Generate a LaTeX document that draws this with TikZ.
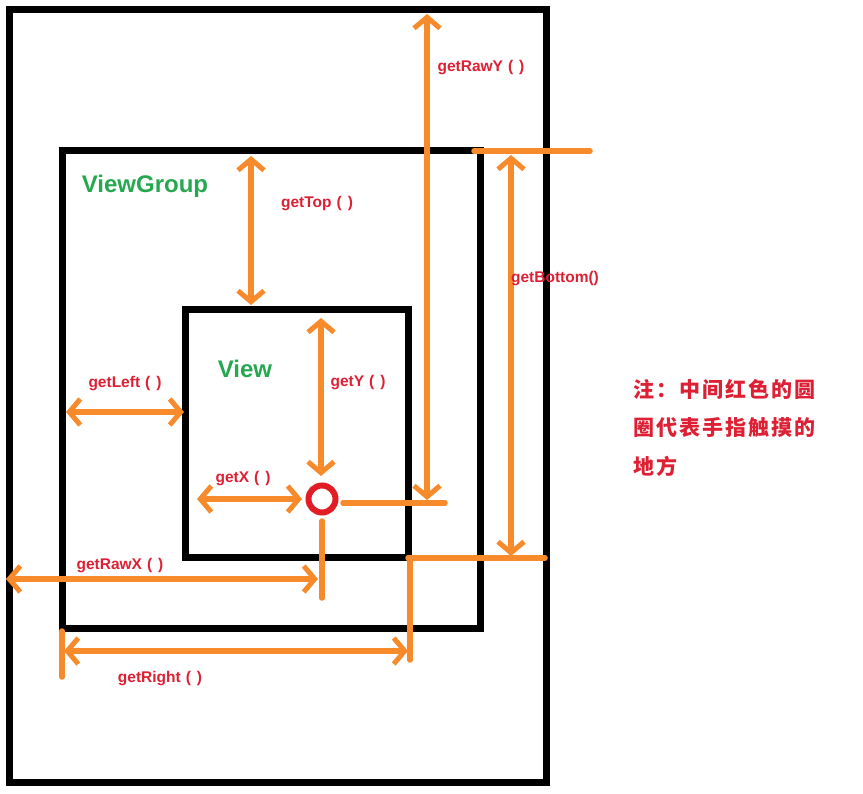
\documentclass[tikz,border=0pt]{standalone}
\usepackage{fontspec}
\setmainfont{Liberation Sans}
\newfontfamily\cjk[LetterSpace=10]{Noto Sans CJK SC}
\usetikzlibrary{arrows.meta}
\definecolor{org}{RGB}{247,138,42}
\definecolor{lblred}{RGB}{222,32,52}
\definecolor{grn}{RGB}{38,168,80}
\definecolor{ring}{RGB}{226,28,36}
\newcommand{\pp}{\hspace{5pt}(\hspace{6pt})}
\begin{document}
\begin{tikzpicture}[x=1pt,y=-1pt,
  box/.style={draw=black,line width=7pt},
  dim/.style={draw=org,line width=5.5pt,line cap=round},
  barb/.tip={Straight Barb[length=11pt,width=26pt,line width=5pt]},
  both/.style={dim,barb-barb},
  lbl/.style={text=lblred,font=\bfseries\fontsize{15.5}{18}\selectfont,inner sep=0pt},
  ttl/.style={text=grn,font=\bfseries\fontsize{24}{28}\selectfont,inner sep=0pt}]
\useasboundingbox (0,0) rectangle (863,794);
\fill[white] (0,0) rectangle (863,794);
% boxes
\draw[box] (9,10) rectangle (546,782);
\draw[box] (62,151) rectangle (480,628);
\draw[box] (185,310) rectangle (408,557);
% coordinates
\coordinate (rawYtop) at (427,14);
\coordinate (rawYbot) at (427,500);
\coordinate (tR) at (343,503);
\coordinate (tRend) at (445,503);
\coordinate (botTopA) at (474,151);
\coordinate (botTopB) at (590,151);
\coordinate (botBotA) at (408,558);
\coordinate (botBotB) at (545,558);
\coordinate (bTop) at (511,155);
\coordinate (bBot) at (511,556);
\coordinate (topA) at (251,156);
\coordinate (topB) at (251,305);
\coordinate (yA) at (321,318);
\coordinate (yB) at (321,476);
\coordinate (lA) at (66,412);
\coordinate (lB) at (184,412);
\coordinate (xA) at (197,499);
\coordinate (xB) at (302,499);
\coordinate (rxA) at (6,579);
\coordinate (rxB) at (318,579);
\coordinate (tD) at (322,521);
\coordinate (tDend) at (322,598);
\coordinate (rA) at (64,651);
\coordinate (rB) at (408,651);
\coordinate (tickA) at (62,631);
\coordinate (tickB) at (62,677);
\coordinate (rvA) at (410,558);
\coordinate (rvB) at (410,660);
% touch point
\node[circle,draw=ring,line width=6pt,minimum size=27pt,inner sep=0pt] (touch) at (322,499) {};
% orange guides
\draw[dim] (tR) -- (tRend);
\draw[dim] (tD) -- (tDend);
\draw[dim] (botTopA) -- (botTopB);
\draw[dim] (botBotA) -- (botBotB);
\draw[dim] (tickA) -- (tickB);
\draw[dim] (rvA) -- (rvB);
% dimension arrows
\draw[both] (rawYbot) -- (rawYtop);
\draw[both] (bBot) -- (bTop);
\draw[both] (topA) -- (topB);
\draw[both] (yA) -- (yB);
\draw[both] (lA) -- (lB);
\draw[both] (xA) -- (xB);
\draw[both] (rxA) -- (rxB);
\draw[both] (rA) -- (rB);
% labels
\node[ttl] (vg) at (145,186) {ViewGroup};
\node[ttl] (v) at (245,369) {View};
\node[lbl] (lrawy) at (481,68) {getRawY\pp};
\node[lbl] (ltop) at (317,204) {getTop\pp};
\node[lbl] (lbot) at (555,279) {getBottom()};
\node[lbl] (ly) at (358,383) {getY\pp};
\node[lbl] (lleft) at (125,384) {getLeft\pp};
\node[lbl] (lx) at (243,479) {getX\pp};
\node[lbl] (lrawx) at (120,566) {getRawX\pp};
\node[lbl] (lright) at (160,679) {getRight\pp};
\node[text=lblred,font=\cjk\bfseries\fontsize{21}{38.5}\selectfont,align=left,anchor=north west,inner sep=0pt] (note) at (633,379)
 {注：中间红色的圆\\圈代表手指触摸的\\地方};
\end{tikzpicture}
\end{document}
